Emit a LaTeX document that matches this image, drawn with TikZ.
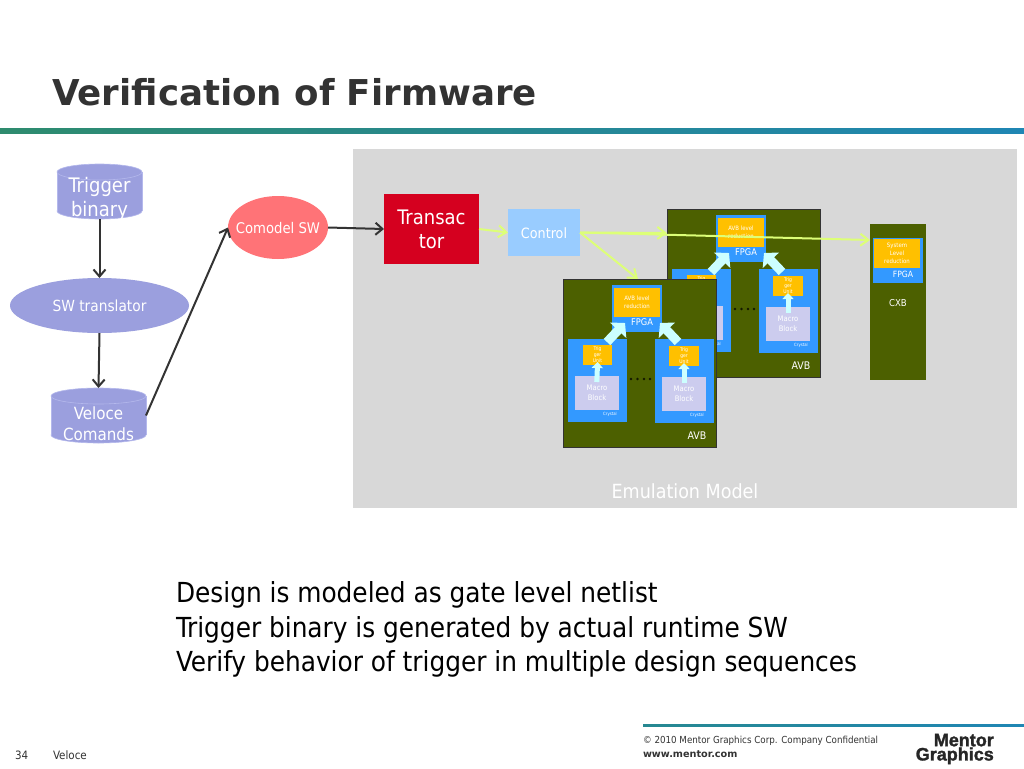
\documentclass[tikz,border=0pt]{standalone}
\usepackage{fontspec}
\setmainfont{DejaVu Sans Condensed}
\newfontfamily\titlefont{DejaVu Sans}
\newfontfamily\logofont[BoldFeatures={FakeBold=1.6}]{Liberation Sans}
\usetikzlibrary{arrows.meta,shapes.geometric,calc}
\definecolor{lav}{HTML}{9B9FDE}
\definecolor{lavline}{HTML}{B4B8EC}
\definecolor{salmon}{HTML}{FF7377}
\definecolor{ink}{HTML}{333333}
\definecolor{bggray}{HTML}{D8D8D8}
\definecolor{txred}{HTML}{D5001F}
\definecolor{ctrl}{HTML}{99CCFF}
\definecolor{lime}{HTML}{DDFF77}
\definecolor{board}{HTML}{4C6000}
\definecolor{chipblue}{HTML}{3399FF}
\definecolor{amber}{HTML}{FFC000}
\definecolor{macrofill}{HTML}{CCCCEE}
\definecolor{aqua}{HTML}{CCFFFF}
\definecolor{ruleL}{HTML}{2E8B6E}
\definecolor{ruleM}{HTML}{7A8F3C}
\definecolor{ruleR}{HTML}{1F86B4}
\newcommand\fsz[2]{\fontsize{#1}{#2}\selectfont}
\tikzset{
 box/.style={rectangle,inner sep=0pt,outer sep=0pt,align=center},
 lbl/.style={inner sep=0pt,outer sep=0pt,align=center,text=white},
 dark/.style={inner sep=0pt,outer sep=0pt,align=left,text=black,anchor=west},
 flow/.style={draw=ink,line width=2pt,-{Straight Barb[length=7pt,width=12pt]}},
 limeflow/.style={draw=lime,line width=2pt,-{Straight Barb[length=8pt,width=12pt]}},
 fat/.style={draw=aqua,line width=9pt,-{Triangle[length=10pt,width=22pt]}},
 slim/.style={draw=aqua,line width=5pt,-{Triangle[length=6pt,width=11pt]}}
}
% cylinder body: #1 name, #2 centre x, #3 centre y, #4 half width, #5 half height
\newcommand\drum[5]{%
 \node[box,minimum width=2*#4 pt,minimum height=2*#5 pt] (#1) at (#2,#3) {};
 \fill[lav,draw=lavline,line width=.6pt] ($(#1.south)+(0,-8)$) ellipse [x radius=#4,y radius=8];
 \fill[lav] ($(#1.north west)+(0,8)$) rectangle ($(#1.south east)+(0,-8)$);
 \draw[lavline,line width=.6pt] ($(#1.north west)+(0,8)$) -- ($(#1.south west)+(0,-8)$);
 \draw[lavline,line width=.6pt] ($(#1.north east)+(0,8)$) -- ($(#1.south east)+(0,-8)$);
 \fill[lav,draw=lavline,line width=.6pt] ($(#1.north)+(0,8)$) ellipse [x radius=#4,y radius=8];
}
\newcommand\avbboard[3]{%
 \begin{scope}[shift={(#2,#3)},name prefix=#1-]
  \node[box,fill=board,draw=black!80,line width=1pt,minimum width=153pt,minimum height=168pt] (card) at (639.5,363) {};
  \node[box,fill=chipblue,minimum width=50pt,minimum height=47pt] (fpga) at (637,308.5) {};
  \node[box,fill=amber,minimum width=46pt,minimum height=29pt] (lvl) at (637,302.5) {};
  \node[lbl,font=\fsz{6}{8}] (lvltxt) at (637,302) {AVB level\\reduction};
  \node[lbl,font=\fsz{9.2}{11}] (fpgatxt) at (642,322.5) {FPGA};
  \node[box,fill=chipblue,minimum width=59pt,minimum height=83pt] (lb) at (597.5,380.5) {};
  \node[box,fill=amber,minimum width=29pt,minimum height=20pt] (lt) at (597.5,355) {};
  \node[lbl,font=\fsz{5}{6}] (lttxt) at (597.5,355) {Trig\\ger\\Unit};
  \node[box,fill=macrofill,minimum width=44pt,minimum height=34pt] (lm) at (597,393) {};
  \node[lbl,font=\fsz{7.6}{9.5}] (lmtxt) at (597,393) {Macro\\Block};
  \node[lbl,font=\fsz{4.3}{6}] (lc) at (610,414.5) {Crystal};
  \node[box,fill=chipblue,minimum width=59pt,minimum height=84pt] (rb) at (684.5,381) {};
  \node[box,fill=amber,minimum width=30pt,minimum height=20pt] (rt) at (684,356) {};
  \node[lbl,font=\fsz{5}{6}] (rttxt) at (684,356) {Trig\\ger\\Unit};
  \node[box,fill=macrofill,minimum width=44pt,minimum height=34pt] (rm) at (684,394) {};
  \node[lbl,font=\fsz{7.6}{9.5}] (rmtxt) at (684,394) {Macro\\Block};
  \node[lbl,font=\fsz{4.3}{6}] (rc) at (697,415) {Crystal};
  \node[lbl,font=\fsz{10.5}{13}] (name) at (697,436) {AVB};
  \coordinate (la) at (607,342);
  \coordinate (lz) at (625,323);
  \coordinate (ra) at (678,342);
  \coordinate (rz) at (660,323);
  \draw[fat] (la) -- (lz);
  \draw[fat] (ra) -- (rz);
  \draw[slim,shorten <=-6pt,shorten >=-3pt] (lm.north) -- (lt.south);
  \draw[slim,shorten <=-6pt,shorten >=-3pt] (rm.north) -- (rt.south);
  \foreach \dx in {631,637.5,644,650}{\fill[black!75!board] (\dx,379) circle (1.4);}
 \end{scope}}
\begin{document}
\begin{tikzpicture}[x=1pt,y=-1pt]
 \useasboundingbox (0,0) rectangle (1024,768);
 \fill[white] (0,0) rectangle (1024,768);
 % header
 \node[inner sep=0pt,anchor=west,text=ink,font=\titlefont\bfseries\fsz{35.6}{40}] (title) at (52,92) {Verification of Firmware};
 \shade[left color=ruleL,middle color=ruleM,right color=ruleR] (0,128) rectangle (1024,133);
 % emulation panel
 \node[box,fill=bggray,minimum width=664pt,minimum height=359pt] (panel) at (685,328.5) {};
 \node[lbl,font=\fsz{19.5}{22}] (emu) at (685,491) {Emulation Model};
 % left flow
 \drum{trig}{99.5}{191.5}{42.5}{27.5}
 \node[lbl,font=\fsz{20}{24}] (trigtxt) at (99.5,199) {Trigger\\binary};
 \node[ellipse,fill=lav,inner sep=0pt,outer sep=0pt,minimum width=179pt,minimum height=55pt] (sw) at (99.5,305.5) {};
 \node[lbl,font=\fsz{15.3}{18}] (swtxt) at (99.5,306) {SW translator};
 \drum{vel}{98.5}{415.5}{47.5}{27.5}
 \node[lbl,font=\fsz{16.8}{21}] (veltxt) at (98.5,423.5) {Veloce\\Comands};
 \node[ellipse,fill=salmon,inner sep=0pt,outer sep=0pt,minimum width=100pt,minimum height=63pt] (com) at (278,227.5) {};
 \node[lbl,font=\fsz{14.7}{17}] (comtxt) at (278,228) {Comodel SW};
 \node[box,fill=txred,minimum width=95pt,minimum height=70pt,text=white,font=\fsz{20}{24}] (tr) at (431.5,229) {Transac\\tor};
 \node[box,fill=ctrl,minimum width=72pt,minimum height=47pt] (ctl) at (544,232.5) {};
 \node[lbl,font=\fsz{14.2}{17}] (ctltxt) at (544,233.5) {Control};
 \draw[flow] (trig.south) -- (sw.north);
 \draw[flow] (sw.south) -- (vel.north);
 \draw[flow] (vel.east) -- (com.west);
 \draw[flow] (com.east) -- (tr.west);
 % boards
 \avbboard{back}{104}{-70}
 \node[box,fill=board,minimum width=56pt,minimum height=156pt] (cxb) at (898,302) {};
 \node[box,fill=chipblue,minimum width=50pt,minimum height=45pt] (cxfpga) at (898,260.5) {};
 \node[box,fill=amber,minimum width=46pt,minimum height=29pt] (cxlvl) at (897,253.5) {};
 \node[lbl,font=\fsz{6}{8}] (cxlvltxt) at (897,253.5) {System\\Level\\reduction};
 \node[lbl,font=\fsz{8.6}{11}] (cxf) at (903,274) {FPGA};
 \node[lbl,font=\fsz{9.5}{12}] (cxname) at (898,303) {CXB};
 % control links
 \draw[limeflow] (tr.east) -- (ctl.west);
 \coordinate (backin) at (667,233);
 \draw[limeflow] (ctl.east) -- (backin);
 \coordinate (cxin) at (870,240);
 \draw[limeflow] (ctl.east) -- (cxin);
 \coordinate (frontin) at (638,279);
 \draw[limeflow] (ctl.east) -- (frontin);
 \avbboard{front}{0}{0}
 % body text
 \node[dark,font=\fsz{27.6}{32}] (b1) at (176,595) {Design is modeled as gate level netlist};
 \node[dark,font=\fsz{27.6}{32}] (b2) at (176,630) {Trigger binary is generated by actual runtime SW};
 \node[dark,font=\fsz{27.6}{32}] (b3) at (176,664) {Verify behavior of trigger in multiple design sequences};
 % footer
 \shade[left color=ruleL!50!ruleR,middle color=ruleM,right color=ruleR] (643,724) rectangle (1024,726);
 \node[dark,text=ink,font=\fsz{9.7}{12}] (copy) at (643,741) {© 2010 Mentor Graphics Corp. Company Confidential};
 \node[dark,text=ink,font=\titlefont\bfseries\fsz{9.7}{12}] (web) at (643,754) {www.mentor.com};
 \node[dark,text=ink,font=\fsz{11.5}{13}] (page) at (15,755) {34};
 \node[dark,text=ink,font=\fsz{11.5}{13}] (deck) at (53,755) {Veloce};
 \node[inner sep=0pt,anchor=east,align=right,text=black!85,font=\logofont\bfseries\fsz{18}{12}] (logo) at (994,749) {Mentor\\Graphics};
\end{tikzpicture}
\end{document}
